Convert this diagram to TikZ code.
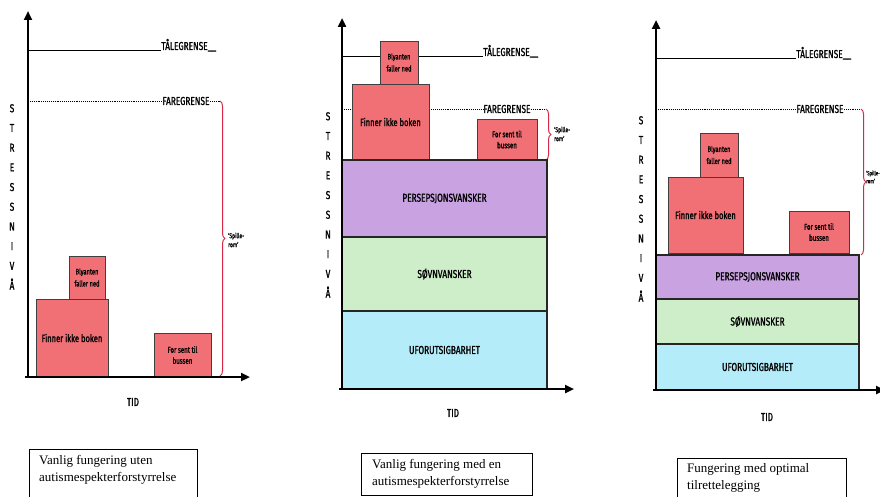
\documentclass[tikz,border=0pt]{standalone}
\usepackage{fontspec}
\setmainfont{Liberation Serif}
\newfontfamily\hand[FakeStretch=0.72,FakeBold=1.3]{Fira Sans}
\usetikzlibrary{arrows.meta,decorations.pathreplacing}
\definecolor{redbox}{RGB}{240,112,118}
\definecolor{purplebox}{RGB}{200,162,225}
\definecolor{greenbox}{RGB}{205,238,200}
\definecolor{bluebox}{RGB}{180,236,250}
\definecolor{bracered}{RGB}{215,40,70}
\tikzset{
  axis/.style={line width=2.4pt,-{Triangle[width=8pt,length=9pt]}},
  toleline/.style={line width=0.7pt},
  dangerline/.style={line width=0.9pt,densely dotted},
  redb/.style={draw=black!75,line width=0.8pt,fill=redbox,anchor=north west,inner sep=0pt,outer sep=0pt,align=center,font=\hand\fontsize{8.5}{11}\selectfont},
  bigred/.style={redb,font=\hand\fontsize{10.5}{12}\selectfont},
  smallred/.style={redb,font=\hand\fontsize{8}{12}\selectfont},
  layer/.style={draw=black!85,line width=1.3pt,anchor=north west,inner sep=0pt,outer sep=0pt,font=\hand\fontsize{11.5}{13}\selectfont},
  lim/.style={inner sep=0pt,font=\hand\fontsize{11.5}{13}\selectfont},
  letters/.style={align=center,inner sep=0pt,font=\hand\fontsize{11.5}{19.7}\selectfont},
  tid/.style={inner sep=0pt,font=\hand\fontsize{11.5}{13}\selectfont},
  brc/.style={draw=bracered,line width=1pt,decorate,decoration={brace,amplitude=5pt}},
  spille/.style={anchor=west,inner sep=0pt,align=left,font=\hand\fontsize{7}{9}\selectfont},
  caption/.style={draw=black,line width=0.9pt,anchor=north west,inner sep=0pt,outer sep=0pt},
  captext/.style={anchor=north west,inner sep=0pt,align=left,font=\fontsize{13}{17}\selectfont}
}
\begin{document}
\begin{tikzpicture}[x=1pt,y=-1pt]
\useasboundingbox (0,0) rectangle (880,497);
% ================= Panel 1 =================
\coordinate (o1) at (28,377);
\coordinate (yt1) at (28,11);
\coordinate (xe1) at (250,377);
\coordinate (ta1s) at (28,50);
\coordinate (fa1s) at (28,101);
\draw[toleline] (ta1s) -- (161,50) node[lim,anchor=base west] (ta1) {TÅLEGRENSE\_\_};
\draw[dangerline] (fa1s) -- (162,101) node[lim,anchor=west] (fa1) {FAREGRENSE};
\coordinate (br1t) at (220,101);
\coordinate (br1b) at (220,376);
\draw[dangerline] (fa1.east) -- (br1t);
\draw[brc] (br1t) -- (br1b);
\node[spille] (sp1) at (228,240) {‘Spille-\\rom’};
\node[bigred,minimum width=72pt,minimum height=78pt] (fi1) at (36,299) {Finner ikke boken};
\node[smallred,minimum width=36pt,minimum height=43pt] (bl1) at (69,256) {Blyanten\\faller ned};
\node[redb,minimum width=57pt,minimum height=44pt] (fs1) at (154,333) {For sent til\\bussen};
\draw[axis] (o1) -- (yt1);
\draw[axis] ([xshift=-3pt]o1) -- (xe1);
\node[letters,anchor=north] (st1) at (12,104) {S\\T\\R\\E\\S\\S\\N\\I\\V\\Å};
\node[tid] (tid1) at (133,402) {TID};
\node[caption,minimum width=168pt,minimum height=60pt] (cb1) at (29,449) {};
\node[captext] (ct1) at (39,455) {Vanlig fungering uten\\autismespekterforstyrrelse};
% ================= Panel 2 =================
\coordinate (o2) at (342,389);
\coordinate (yt2) at (342,18);
\coordinate (xe2) at (574,389);
\coordinate (ta2s) at (342,56);
\coordinate (fa2s) at (342,109);
\draw[toleline] (ta2s) -- (483,56) node[lim,anchor=base west] (ta2) {TÅLEGRENSE\_\_};
\draw[dangerline] (fa2s) -- (483,109) node[lim,anchor=west] (fa2) {FAREGRENSE};
\coordinate (br2t) at (546,109);
\coordinate (br2b) at (546,160);
\draw[dangerline] (fa2.east) -- (br2t);
\draw[brc] (br2t) -- (br2b);
\node[spille] (sp2) at (554,134) {‘Spille-\\rom’};
\node[smallred,minimum width=38pt,minimum height=43pt] (bl2) at (380,41) {Blyanten\\faller ned};
\node[bigred,minimum width=77pt,minimum height=76pt] (fi2) at (352,84) {Finner ikke boken};
\node[redb,minimum width=60pt,minimum height=41pt] (fs2) at (477,119) {For sent til\\bussen};
\node[layer,fill=purplebox,minimum width=205pt,minimum height=77pt] (pe2) at (342,160) {PERSEPSJONSVANSKER};
\node[layer,fill=greenbox,minimum width=205pt,minimum height=74pt] (so2) at (342,237) {SØVNVANSKER};
\node[layer,fill=bluebox,minimum width=205pt,minimum height=78pt] (uf2) at (342,311) {UFORUTSIGBARHET};
\draw[axis] (o2) -- (yt2);
\draw[axis] ([xshift=-3pt]o2) -- (xe2);
\node[letters,anchor=north] (st2) at (328,112) {S\\T\\R\\E\\S\\S\\N\\I\\V\\Å};
\node[tid] (tid2) at (453,413) {TID};
\node[caption,minimum width=171pt,minimum height=42pt] (cb2) at (361,453) {};
\node[captext] (ct2) at (372,459) {Vanlig fungering med en\\autismespekterforstyrrelse};
% ================= Panel 3 =================
\coordinate (o3) at (656,390);
\coordinate (yt3) at (656,20);
\coordinate (xe3) at (885,390);
\coordinate (ta3s) at (656,58);
\coordinate (fa3s) at (656,109);
\draw[toleline] (ta3s) -- (796,58) node[lim,anchor=base west] (ta3) {TÅLEGRENSE\_\_};
\draw[dangerline] (fa3s) -- (796,109) node[lim,anchor=west] (fa3) {FAREGRENSE};
\coordinate (br3t) at (861,109);
\coordinate (br3b) at (861,255);
\draw[dangerline] (fa3.east) -- (br3t);
\draw[brc] (br3t) -- (br3b);
\node[spille,font=\hand\fontsize{6}{8}\selectfont] (sp3) at (866,177) {‘Spille-\\rom’};
\node[smallred,minimum width=38pt,minimum height=44pt] (bl3) at (700,133) {Blyanten\\faller ned};
\node[bigred,minimum width=75pt,minimum height=76pt] (fi3) at (668,177) {Finner ikke boken};
\node[redb,minimum width=60pt,minimum height=42pt] (fs3) at (789,211) {For sent til\\bussen};
\node[layer,fill=purplebox,minimum width=203pt,minimum height=44pt] (pe3) at (656,255) {PERSEPSJONSVANSKER};
\node[layer,fill=greenbox,minimum width=203pt,minimum height=45pt] (so3) at (656,299) {SØVNVANSKER};
\node[layer,fill=bluebox,minimum width=203pt,minimum height=46pt] (uf3) at (656,344) {UFORUTSIGBARHET};
\draw[axis] (o3) -- (yt3);
\draw[axis] ([xshift=-3pt]o3) -- (xe3);
\node[letters,anchor=north] (st3) at (641,116) {S\\T\\R\\E\\S\\S\\N\\I\\V\\Å};
\node[tid] (tid3) at (767,417) {TID};
\node[caption,minimum width=169pt,minimum height=50pt] (cb3) at (677,458) {};
\node[captext] (ct3) at (687,463) {Fungering med optimal\\tilrettelegging};
\end{tikzpicture}
\end{document}
